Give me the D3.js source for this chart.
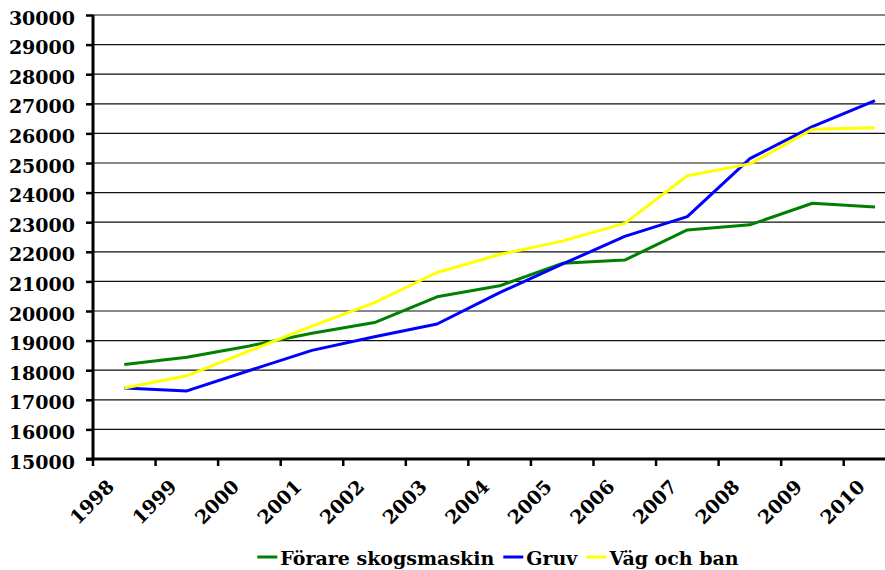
<!DOCTYPE html>
<html>
<head>
<meta charset="utf-8">
<script src="https://cdn.jsdelivr.net/npm/d3@7"></script>
<style>
  body { margin: 0; background: #fff; }
  text { font-family: "DejaVu Serif", serif; font-weight: bold; fill: #000; }
</style>
</head>
<body>
<div id="chart"></div>
<script>
const years = ['1998', '1999', '2000', '2001', '2002', '2003', '2004', '2005', '2006', '2007', '2008', '2009', '2010'];
const forare = [18190, 18440, 18820, 19250, 19610, 20480, 20850, 21610, 21720, 22740, 22910, 23640, 23510];
const gruv = [17400, 17300, 17990, 18670, 19130, 19560, 20620, 21580, 22520, 23190, 25150, 26230, 27110];
const vag = [17400, 17810, 18650, 19490, 20280, 21300, 21910, 22360, 22960, 24570, 24970, 26140, 26190];
const seriesNames = ['Förare skogsmaskin', 'Gruv', 'Väg och ban'];
const seriesColors = ['#008000', '#0000ff', '#ffff00'];
const yTicks = d3.range(15000, 30001, 1000);

const width = 885, height = 570;
const margin = {left: 93, top: 15, bottom: 459};
const step = 62.56;

const svg = d3.select('#chart').append('svg')
	.attr('width', width)
	.attr('height', height);

const x = d3.scaleBand()
	.domain(years)
	.range([margin.left, margin.left + step * years.length])
	.padding(0);

const y = d3.scaleLinear()
	.domain([15000, 30000])
	.range([margin.bottom, margin.top]);

// gridlines
svg.append('g')
	.selectAll('line')
	.data(yTicks.slice(1))
	.join('line')
	.attr('x1', margin.left).attr('x2', width)
	.attr('y1', d => y(d)).attr('y2', d => y(d))
	.attr('stroke', '#111')
	.attr('stroke-width', 1.2);

// y axis
const yAxis = svg.append('g')
	.attr('transform', `translate(${margin.left},0)`)
	.call(d3.axisLeft(y).tickValues(yTicks).tickSize(7).tickPadding(11).tickFormat(d3.format('d')));
yAxis.select('.domain').remove();
yAxis.selectAll('.tick line').attr('stroke', '#000').attr('stroke-width', 2.5);
yAxis.selectAll('.tick text')
	.attr('dy', null)
	.attr('y', 9)
	.style('font-size', '19px');
svg.append('line')
	.attr('x1', margin.left).attr('x2', margin.left)
	.attr('y1', margin.top).attr('y2', margin.bottom)
	.attr('stroke', '#000').attr('stroke-width', 3);

// x axis
const xg = svg.append('g');
xg.selectAll('line.tick')
	.data(years)
	.join('line')
	.attr('class', 'tick')
	.attr('x1', d => x(d)).attr('x2', d => x(d))
	.attr('y1', margin.bottom).attr('y2', margin.bottom + 7)
	.attr('stroke', '#000').attr('stroke-width', 2.5);
xg.append('line')
	.attr('x1', margin.left - 7).attr('x2', width)
	.attr('y1', margin.bottom).attr('y2', margin.bottom)
	.attr('stroke', '#000').attr('stroke-width', 3);
xg.selectAll('text')
	.data(years)
	.join('text')
	.attr('transform', d => `translate(${x(d) + x.bandwidth() / 2 - 9},488) rotate(-45)`)
	.attr('text-anchor', 'end')
	.style('font-size', '19px')
	.text(d => d);

// lines
const line = d3.line()
	.x((d, i) => x(years[i]) + x.bandwidth() / 2)
	.y(d => y(d));

[forare, gruv, vag].forEach((values, k) => {
	svg.append('path')
		.datum(values)
		.attr('fill', 'none')
		.attr('stroke', seriesColors[k])
		.attr('stroke-width', 3)
		.attr('stroke-linejoin', 'round')
		.attr('d', line);
});

// legend
const legend = svg.append('g');
let cx = 0;
seriesNames.forEach((name, k) => {
	const g = legend.append('g');
	g.append('line')
		.attr('x1', 0).attr('x2', 20)
		.attr('y1', -8).attr('y2', -8)
		.attr('stroke', seriesColors[k]).attr('stroke-width', 3);
	const t = g.append('text')
		.attr('x', 23)
		.style('font-size', '19px')
		.text(name);
	const w = 23 + t.node().getComputedTextLength();
	g.attr('transform', `translate(${cx},0)`);
	cx += w + 9;
});
const total = cx - 9;
legend.attr('transform', `translate(${498 - total / 2},565)`);
</script>
</body>
</html>
